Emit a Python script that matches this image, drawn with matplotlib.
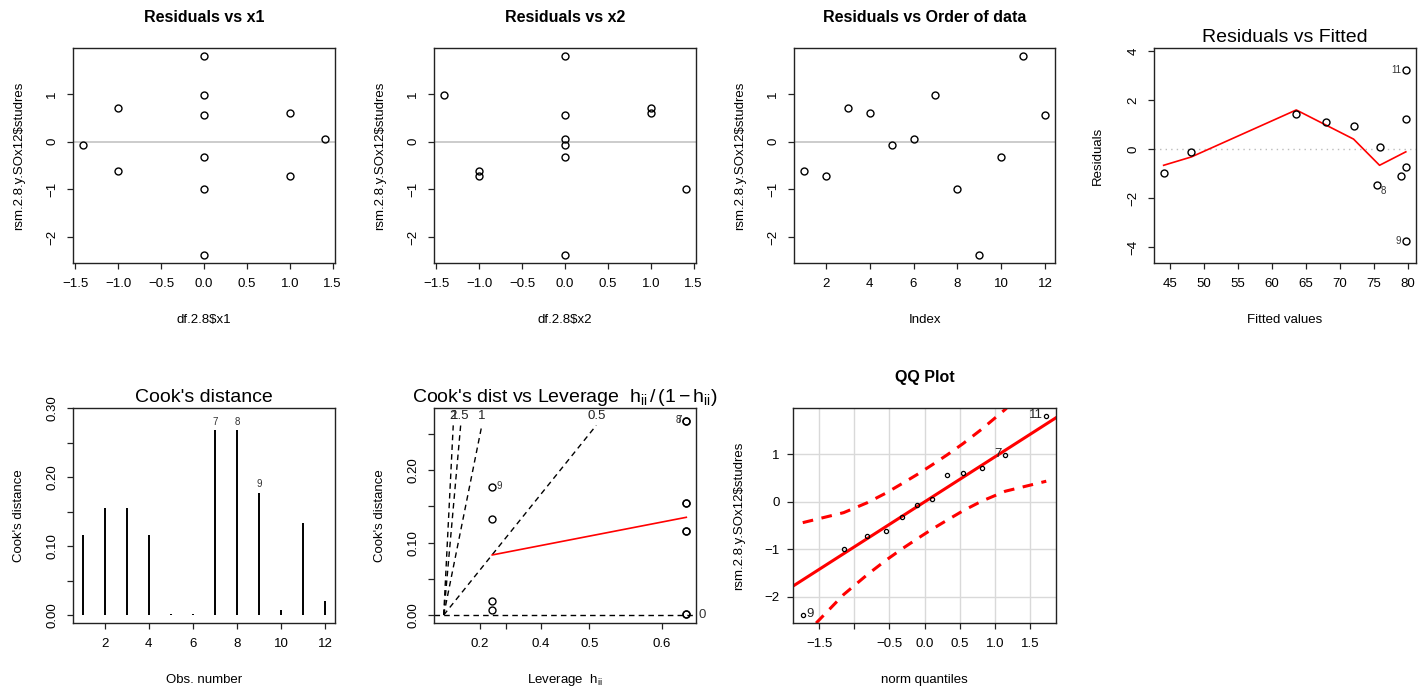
import matplotlib
matplotlib.use("Agg")
import matplotlib.pyplot as plt
import matplotlib.transforms as mtransforms

plt.rcParams['font.family'] = ['Liberation Sans', 'DejaVu Sans']
plt.rcParams['mathtext.fontset'] = 'custom'
plt.rcParams['mathtext.rm'] = 'Liberation Sans'
plt.rcParams['mathtext.it'] = 'Liberation Sans'

# studentized residuals in run order
studres = [-0.62, -0.72, 0.71, 0.61, -0.07, 0.06, 0.98, -0.99, -2.38, -0.33, 1.80, 0.55]
x1 = [-1, 1, -1, 1, -1.414, 1.414, 0, 0, 0, 0, 0, 0]
x2 = [-1, -1, 1, 1, 0, 0, -1.414, 1.414, 0, 0, 0, 0]
run_no = [1, 2, 3, 4, 5, 6, 7, 8, 9, 10, 11, 12]

# residuals vs fitted
fitted = [44.02, 48.09, 63.56, 67.88, 72.0, 75.83, 75.39, 79.02, 79.7, 79.7, 79.7, 79.7]
resid = [-0.95, -0.11, 1.46, 1.10, 0.97, 0.11, -1.46, -1.10, -0.73, 1.25, 3.24, -3.74]
fit_ids = {6: "8", 10: "11", 11: "9"}
smooth_x = [44.02, 48.09, 63.56, 72.0, 75.83, 79.7]
smooth_y = [-0.65, -0.31, 1.61, 0.42, -0.65, -0.10]

# cook's distance
cook = [0.116, 0.155, 0.155, 0.116, 0.001, 0.001, 0.268, 0.268, 0.177, 0.007, 0.133, 0.020]
cook_ids = [7, 8, 9]

# cook's distance vs leverage
leverage = [0.625, 0.625, 0.625, 0.625, 0.625, 0.625, 0.625, 0.625, 0.25, 0.25, 0.25, 0.25]
cook_levels = [0, 0.5, 1, 1.5, 2]
lev_smooth_h = [0.25, 0.625]
lev_smooth_y = [0.083, 0.135]
lev_ticks = [0.2, 0.3, 0.4, 0.5, 0.6]
lev_ticklabels = ["0.2", "", "0.4", "0.5", "0.6"]

# qq plot
qq_theo = [-1.732, -1.150, -0.812, -0.549, -0.319, -0.105, 0.105, 0.319, 0.549, 0.812, 1.150, 1.732]
qq_samp = [-2.38, -0.99, -0.72, -0.62, -0.33, -0.07, 0.06, 0.55, 0.61, 0.71, 0.98, 1.80]
qq_upper = [-0.44, -0.23, -0.02, 0.18, 0.38, 0.57, 0.77, 0.98, 1.22, 1.52, 1.94, 2.83]
qq_lower = [-2.84, -1.95, -1.53, -1.23, -0.99, -0.78, -0.58, -0.39, -0.19, 0.01, 0.22, 0.43]
qq_intercept = -0.005
qq_slope = 0.945
qq_ids = {0: "9", 10: "7", 11: "11"}

W, H = 1426, 690
fig = plt.figure(figsize=(W / 100, H / 100), dpi=100)

TICK = 9.5
LAB = 9.5


def box(x0, y0, x1, y1):
    return fig.add_axes([x0 / W, 1 - y1 / H, (x1 - x0) / W, (y1 - y0) / H])


def r_lim(lo, hi):
    d = (hi - lo) * 0.04
    return lo - d, hi + d


def fmt(v, nd=1):
    return f"{v:.{nd}f}".replace("-", "\u2212")


def r_style(ax, xlab, ylab, xt, xtl, yt, ytl, rot=True):
    for s in ax.spines.values():
        s.set_linewidth(1.0)
        s.set_color("#222222")
    ax.set_xticks(xt, xtl)
    if rot:
        ax.set_yticks(yt, ytl, rotation=90, va="center")
    else:
        ax.set_yticks(yt, ytl)
    ax.tick_params(direction="out", length=4.5, width=0.9, labelsize=TICK, color="#222222")
    ax.tick_params(axis="x", pad=6.5)
    ax.tick_params(axis="y", pad=6 if rot else 5)
    ax.set_xlabel(xlab, fontsize=LAB)
    ax.set_ylabel(ylab, fontsize=LAB)
    hpx = ax.get_position().height * H
    wpx = ax.get_position().width * W
    ax.xaxis.set_label_coords(0.5, -57 / hpx)
    ax.xaxis.label.set_va("center")
    ax.yaxis.set_label_coords(-54 / wpx, 0.5)
    ax.yaxis.label.set_va("center")


circ = dict(marker="o", ms=5, mfc="none", mec="black", mew=1.0, ls="none")
ylab_res = "rsm.2.8.y.SOx12$studres"
xt15 = [-1.5, -1.0, -0.5, 0.0, 0.5, 1.0, 1.5]
yt_res = [-2, -1, 0, 1]

# 1. residuals vs x1
for k, (xv, name, title, x0) in enumerate([(x1, "df.2.8$x1", "Residuals vs x1", 73),
                                           (x2, "df.2.8$x2", "Residuals vs x2", 434)]):
    ax = box(x0, 48, x0 + 262, 263)
    ax.axhline(0, color="#bebebe", lw=1.1)
    ax.plot(xv, studres, **circ)
    ax.set_xlim(*r_lim(-1.414, 1.414))
    ax.set_ylim(*r_lim(-2.38, 1.80))
    r_style(ax, name, ylab_res, xt15, [fmt(v) for v in xt15], yt_res, [fmt(v, 0) for v in yt_res])
    ax.set_title(title, fontsize=11.5, fontweight="bold", pad=19)

# 3. residuals vs order
ax = box(794, 48, 1055, 263)
ax.axhline(0, color="#bebebe", lw=1.1)
ax.plot(run_no, studres, **circ)
ax.set_xlim(*r_lim(1, 12))
ax.set_ylim(*r_lim(-2.38, 1.80))
r_style(ax, "Index", ylab_res, [2, 4, 6, 8, 10, 12], ["2", "4", "6", "8", "10", "12"],
        yt_res, [fmt(v, 0) for v in yt_res])
ax.set_title("Residuals vs Order of data", fontsize=11.5, fontweight="bold", pad=19)

# 4. residuals vs fitted
ax = box(1154, 48, 1416, 263)
ax.axhline(0, color="#bbbbbb", lw=1.0, ls=(0, (1, 3)))
ax.plot(smooth_x, smooth_y, color="red", lw=1.2)
ax.plot(fitted, resid, **circ)
for i, lab in fit_ids.items():
    if lab == "8":
        ax.annotate(lab, (fitted[i], resid[i]), xytext=(3, -4), textcoords="offset points",
                    ha="left", va="center", fontsize=7, color="#333333")
    else:
        ax.annotate(lab, (fitted[i], resid[i]), xytext=(-3.5, 0), textcoords="offset points",
                    ha="right", va="center", fontsize=7, color="#333333")
ax.set_xlim(42.6, 81.2)
ax.set_ylim(-4.64, 4.14)
xt = [45, 50, 55, 60, 65, 70, 75, 80]
yt = [-4, -2, 0, 2, 4]
r_style(ax, "Fitted values", "Residuals", xt, [str(v) for v in xt], yt, [fmt(v, 0) for v in yt])
ax.yaxis.set_label_coords(-56 / 262, 0.5)
ax.set_title("Residuals vs Fitted", fontsize=14, pad=4.5)

# 5. cook's distance
ax = box(73, 408, 335, 623)
ax.vlines(run_no, 0, cook, color="black", lw=1.4)
for n in cook_ids:
    ax.annotate(str(n), (n, cook[n - 1]), xytext=(0, 2.5), textcoords="offset points",
                ha="center", va="bottom", fontsize=7, color="#333333")
ax.set_xlim(*r_lim(1, 12))
ax.set_ylim(*r_lim(0, max(cook) * 1.075))
yt = [0.0, 0.05, 0.10, 0.15, 0.20, 0.25, 0.30]
ytl = ["0.00", "", "0.10", "", "0.20", "", "0.30"]
r_style(ax, "Obs. number", "Cook's distance", [2, 4, 6, 8, 10, 12],
        ["2", "4", "6", "8", "10", "12"], yt, ytl)
ax.set_title("Cook's distance", fontsize=14, pad=4)

# 6. cook's distance vs leverage h/(1-h)
ax = box(434, 408, 696, 623)
g = [h / (1 - h) for h in leverage]
ax.set_xlim(*r_lim(0, max(g)))
ax.set_ylim(*r_lim(0, 0.275))
line_top, lab_top = 0.262, 0.275
blend = mtransforms.blended_transform_factory(ax.transAxes, ax.transData)
for b in cook_levels:
    b2 = b ** 2
    if b2 == 0:
        ax.axhline(0, color="black", lw=1.0, ls=(0, (4, 3)))
        ax.annotate("0", (1.0, 0), xycoords=blend, xytext=(2, 0), textcoords="offset points",
                    ha="left", va="center", fontsize=9.5, color="#333333", annotation_clip=False)
    else:
        ax.plot([0, line_top / b2], [0, line_top], color="black", lw=1.0, ls=(0, (4, 3)))
        ax.text(lab_top * 0 + line_top / b2, lab_top, fmt(b, 1 if b % 1 else 0).replace(".0", ""),
                ha="center", va="center", fontsize=9.5, color="#222222")
ax.plot([h / (1 - h) for h in lev_smooth_h], lev_smooth_y, color="red", lw=1.2)
ax.plot(g, cook, **circ)
ax.annotate("9", (g[8], cook[8]), xytext=(3, 1), textcoords="offset points",
            ha="left", va="center", fontsize=7, color="#333333")
for i in (6, 7):
    ax.annotate(str(i + 1), (g[i], cook[i]), xytext=(-3.5, 0.5), textcoords="offset points",
                ha="right", va="center", fontsize=7, color="#333333")
yt = [0.0, 0.05, 0.10, 0.15, 0.20, 0.25]
ytl = ["0.00", "", "0.10", "", "0.20", ""]
r_style(ax, r"Leverage  $\mathrm{h_{ii}}$", "Cook's distance",
        [t / (1 - t) for t in lev_ticks], lev_ticklabels, yt, ytl)
ax.set_title(r"Cook's dist vs Leverage  $\mathrm{h_{ii}\,/\,(1-h_{ii})}$", fontsize=14, pad=4.5)

# 7. qq plot
ax = box(793, 408, 1056, 623)
ax.set_xlim(*r_lim(-1.732, 1.732))
ax.set_ylim(*r_lim(-2.38, 1.80))
for v in xt15:
    ax.axvline(v, color="#d9d9d9", lw=1.0, zorder=0)
for v in yt_res:
    ax.axhline(v, color="#d9d9d9", lw=1.0, zorder=0)
ax.axline((0, qq_intercept), slope=qq_slope, color="red", lw=2.2)
ax.plot(qq_theo, qq_upper, color="red", lw=2.2, ls=(0, (3.5, 2.8)))
ax.plot(qq_theo, qq_lower, color="red", lw=2.2, ls=(0, (3.5, 2.8)))
ax.plot(qq_theo, qq_samp, marker="o", ms=3, mfc="none", mec="black", mew=0.9, ls="none")
for i, lab in qq_ids.items():
    if lab == "9":
        ax.annotate(lab, (qq_theo[i], qq_samp[i]), xytext=(2.5, 1), textcoords="offset points",
                    ha="left", va="center", fontsize=9.5, color="#222222")
    else:
        ax.annotate(lab, (qq_theo[i], qq_samp[i]), xytext=(-2.5, 1), textcoords="offset points",
                    ha="right", va="center", fontsize=9.5, color="#222222")
r_style(ax, "norm quantiles", ylab_res, xt15,
        ["\u22121.5", "", "\u22120.5", "0.0", "0.5", "1.0", "1.5"],
        yt_res, [fmt(v, 0) for v in yt_res], rot=False)
ax.set_title("QQ Plot", fontsize=11.5, fontweight="bold", pad=19)

fig.savefig("out.png", dpi=100)
